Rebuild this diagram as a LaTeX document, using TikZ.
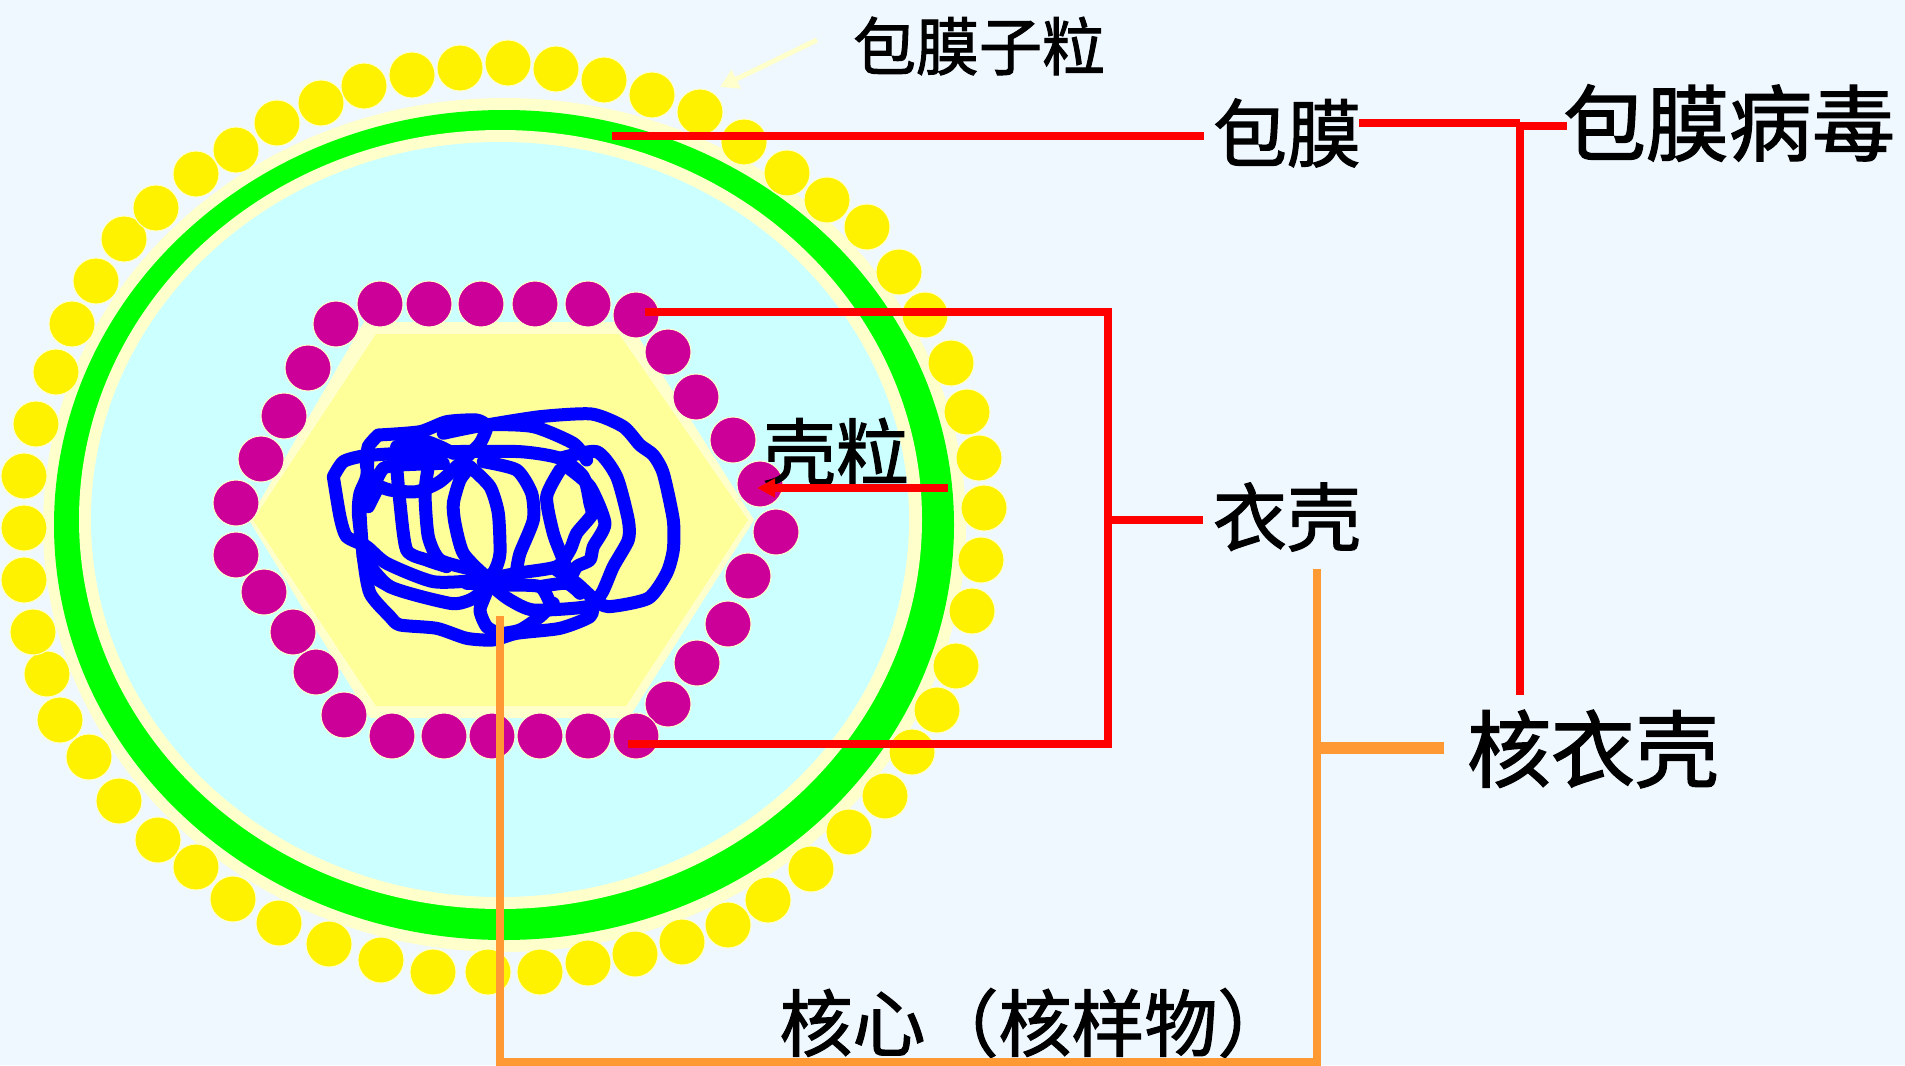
\documentclass[tikz,border=0pt]{standalone}
\usepackage{fontspec}
\setmainfont{Noto Sans CJK SC}[RawFeature={embolden=1.6}]
\usetikzlibrary{arrows.meta}
\definecolor{pagebg}{HTML}{EFF7FF}
\definecolor{pale}{HTML}{FFFFCC}
\definecolor{hexfill}{HTML}{FFFF99}
\definecolor{corefill}{HTML}{CCFFFF}
\definecolor{capsid}{HTML}{CC0099}
\definecolor{lineorange}{HTML}{FF9933}
\tikzset{
    Spike/.style = {circle, minimum size=46pt, inner sep=0pt, fill=yellow, draw=pale, line width=1pt},
    Capsomer/.style = {circle, minimum size=46pt, inner sep=0pt, fill=capsid, draw=pale, line width=1pt},
    Label/.style = {inner sep=0pt, text=black, font=\fontsize{#1}{#1}\selectfont},
    RedLine/.style = {draw=red, line width=8pt},
    OrangeLine/.style = {draw=lineorange, line width=7.5pt},
    Strand/.style = {draw=blue, line width=13pt, line join=round, line cap=round}
}
\begin{document}
\begin{tikzpicture}[x=1pt,y=-1pt]
\useasboundingbox (0,0) rectangle (1905,1065);
\fill[pagebg] (0,0) rectangle (1905,1065);
% envelope
\fill[pale] (504.5,525) ellipse [x radius=461.5, y radius=427];
\fill[green] (504,525) ellipse [x radius=450, y radius=415];
\fill[pale] (500.5,519.5) ellipse [x radius=421.5, y radius=389.5];
\fill[corefill] (500,519.5) ellipse [x radius=409, y radius=377.5];
% spikes
\foreach \x/\y in {508/63,556/69,604/80,652/95,700/112,744/142,787/173,827/200,867/227,899/272,
    925/315,951/363,967/412,979/458,984/508,981/560,972/611,956/666,937/710,912/752,
    885/796,849/832,811/869,768/900,728/925,682/942,635/954,588/963,540/972,488/972,
    433/972,381/960,329/944,279/923,233/899,196/867,158/840,119/801,89/757,60/720,
    47/674,33/632,24/580,24/528,24/476,36/424,56/372,72/324,96/281,124/239,
    156/208,196/174,236/150,277/123,321/103,364/86,412/75,460/68}
    \node[Spike] at (\x,\y) {};
% capsid hexagon
\fill[pale] (364,322) -- (629,322) -- (754,520) -- (629,718) -- (370,718) -- (249,520) -- cycle;
\fill[hexfill] (376,334) -- (619,334) -- (748,520) -- (626,706) -- (376,706) -- (253,520) -- cycle;
\foreach \x/\y in {380/304,429/304,481/304,535/304,588/304,636/315,668/352,696/397,733/440,760/484,
    776/532,748/576,728/624,697/663,668/704,636/736,588/736,540/736,492/736,444/736,
    392/736,344/715,316/672,293/632,264/592,236/555,236/503,261/459,284/416,308/368,336/324}
    \node[Capsomer] at (\x,\y) {};
% nucleic acid coil
\begin{scope}[shift={(300,390)},x=0.3333pt,y=-0.3333pt]
\draw[Strand] plot[smooth,tension=0.4] coordinates {(560,105) (720,80) (875,72) (970,110) (1020,165) (1060,195) (1090,250) (1120,390) (1120,480) (1100,550) (1045,625) (925,650) (880,625) (830,580) (770,540)};
\draw[Strand] plot[smooth,tension=0.4] coordinates {(100,260) (130,215) (190,198) (300,190) (440,185) (660,185) (780,205) (850,260) (870,340) (875,375) (830,430) (810,480) (770,530) (650,550) (540,570) (400,575) (260,520) (200,470) (140,440) (120,380) (100,260)};
\draw[Strand] plot[smooth,tension=0.4] coordinates {(235,135) (360,125) (440,95) (530,90) (560,110) (540,160) (490,210) (420,275) (350,305) (270,300) (225,280) (200,230) (205,170) (235,135)};
\draw[Strand] plot[smooth,tension=0.4] coordinates {(780,205) (890,185) (950,260) (985,390) (985,450) (940,530) (905,610) (860,650) (700,660) (630,630) (590,600) (560,570)};
\draw[Strand] plot[smooth,tension=0.4] coordinates {(510,230) (570,290) (595,370) (600,490) (585,540) (560,560) (490,490) (465,400) (460,340) (480,270) (510,230)};
\draw[Strand] plot[smooth,tension=0.4] coordinates {(550,215) (650,240) (695,310) (700,390) (660,490) (650,540)};
\draw[Strand] plot[smooth,tension=0.4] coordinates {(780,240) (740,320) (760,430) (790,510) (810,570)};
\draw[Strand] plot[smooth,tension=0.4] coordinates {(800,230) (870,290) (915,400) (880,470) (870,510) (830,530) (810,570)};
\draw[Strand] plot[smooth,tension=0.4] coordinates {(385,230) (375,310) (385,440) (420,510) (520,540) (560,560)};
\draw[Strand] plot[smooth,tension=0.4] coordinates {(290,230) (300,340) (320,480) (380,510) (440,530)};
\draw[Strand] plot[smooth,tension=0.4] coordinates {(200,300) (180,350) (190,500) (210,610) (270,680) (300,705) (410,715) (500,745) (580,750) (650,730) (780,715) (870,680) (880,640)};
\draw[Strand] plot[smooth,tension=0.4] coordinates {(190,500) (270,590) (450,640) (510,630) (560,600) (540,660) (560,710) (600,730) (660,720) (720,680) (760,640)};
\draw[Strand] plot[smooth,tension=0.4] coordinates {(430,130) (560,105) (700,110) (820,160) (860,210)};
\draw[Strand] plot[smooth,tension=0.4] coordinates {(500,580) (620,585) (720,590) (750,640)};
\draw[Strand] plot[smooth,tension=0.4] coordinates {(720,590) (800,580) (840,610)};
\draw[Strand] plot[smooth,tension=0.4] coordinates {(205,170) (200,260) (180,310) (175,370) (190,500)};
\draw[Strand] plot[smooth,tension=0.4] coordinates {(225,280) (250,235) (300,225) (430,220)};
\draw[Strand] plot[smooth,tension=0.4] coordinates {(290,170) (360,150) (420,170) (460,190)};
\draw[Strand] plot[smooth,tension=0.4] coordinates {(190,500) (205,550) (270,590)};
\draw[Strand] plot[smooth,tension=0.4] coordinates {(205,350) (230,300)};
\end{scope}
% labels
\node[Label=63] (spikelabel) at (979,46) {包膜子粒};
\node[Label=74] (envelopelabel) at (1287,133) {包膜};
\node[Label=83] (viruslabel) at (1729,123) {包膜病毒};
\node[Label=73] (capsomerlabel) at (836,452) {壳粒};
\node[Label=74] (capsidlabel) at (1287,517) {衣壳};
\node[Label=84] (nucleolabel) at (1593,749) {核衣壳};
\node[Label=73] (corelabel) at (1035,1023) {核心（核样物）};
% anchor points of the leaders
\coordinate (spiketip) at (720,87);
\coordinate (spiketail) at (817,40);
\coordinate (envelopeend) at (612,136);
\coordinate (envelopeleft) at (1204,136);
\coordinate (enveloperight) at (1359,123);
\coordinate (virusjoin) at (1520,123);
\coordinate (virusstub) at (1567,126);
\coordinate (virusfoot) at (1520,695);
\coordinate (capsidtop) at (645,312);
\coordinate (capsidbottom) at (628,744);
\coordinate (bracketmid) at (1108,520);
\coordinate (capsidleft) at (1203,520);
\coordinate (capsomertip) at (757,488);
\coordinate (capsomertail) at (948,488);
\coordinate (coretop) at (500,616);
\coordinate (corefoot) at (500,1062);
\coordinate (orangefoot) at (1317,1062);
\coordinate (orangetop) at (1317,569);
\coordinate (orangemid) at (1317,748);
\coordinate (nucleoleft) at (1444,748);
% leaders
\draw[draw=pale, line width=5pt, -{Triangle[length=18pt,width=20pt]}] (spiketail) -- (spiketip);
\draw[RedLine] (envelopeend) -- (envelopeleft);
\draw[RedLine] (enveloperight) -- (virusjoin);
\draw[RedLine] (virusjoin |- virusstub) -- (virusstub);
\draw[RedLine] (virusjoin) -- (virusfoot);
\draw[RedLine, line join=miter] (capsidtop) -| (bracketmid) |- (capsidbottom);
\draw[RedLine] (bracketmid) -- (capsidleft);
\draw[RedLine, -{Triangle[length=18pt,width=18pt]}] (capsomertail) -- (capsomertip);
\draw[OrangeLine, line join=miter] (coretop) -- (corefoot) -- (orangefoot) -- (orangetop);
\draw[OrangeLine, line width=12pt] (orangemid) -- (nucleoleft);
\end{tikzpicture}
\end{document}
